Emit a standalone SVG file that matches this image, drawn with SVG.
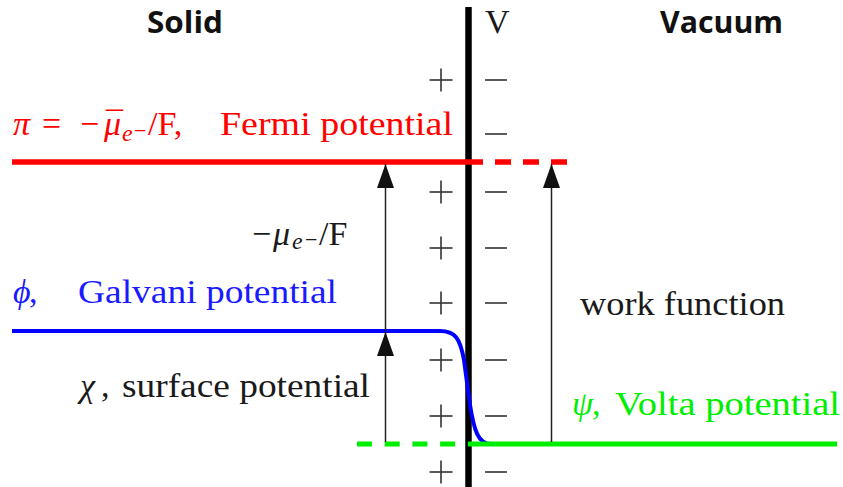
<svg xmlns="http://www.w3.org/2000/svg" width="843" height="487" viewBox="0 0 843 487">
<style>
.serif{font-family:"Liberation Serif","Times New Roman",serif;font-size:34px}
.it{font-style:italic}
.sans{font-family:"Open Sans","Liberation Sans",sans-serif;font-weight:bold;font-size:31px;fill:#111}
.blk{fill:#1a1a1a}
.red{fill:#ff0000}
.blue{fill:#1a1aff}
.green{fill:#00ee00}
.sign{stroke:#333;stroke-width:1.6;fill:none}
.arr{stroke:#222;stroke-width:1.5;fill:none;marker-end:url(#head)}
</style>
<defs>
<marker id="head" markerUnits="userSpaceOnUse" markerWidth="24" markerHeight="17" refX="24" refY="8.5" orient="auto">
<path d="M0,0 L24,8.5 L0,17 z" fill="#111"/>
</marker>
<g id="plus"><line class="sign" x1="-11.5" y1="0" x2="11.5" y2="0"/><line class="sign" x1="0" y1="-11.5" x2="0" y2="11.5"/></g>
<line id="minus" class="sign" x1="485" y1="0" x2="507" y2="0"/>
</defs>

<g id="headers">
<text class="sans" x="147" y="33" textLength="76" lengthAdjust="spacingAndGlyphs">Solid</text>
<text class="sans" x="660" y="33" textLength="123" lengthAdjust="spacingAndGlyphs">Vacuum</text>
<text class="serif blk" x="485" y="33">V</text>
</g>

<g id="interface">
<line x1="468.5" y1="7" x2="468.5" y2="487" stroke="#000" stroke-width="6.5"/>
</g>

<g id="charges">
<use href="#plus" x="441" y="80"/>
<use href="#plus" x="441" y="192"/>
<use href="#plus" x="441" y="248"/>
<use href="#plus" x="441" y="303"/>
<use href="#plus" x="441" y="360"/>
<use href="#plus" x="441" y="416"/>
<use href="#plus" x="441" y="472"/>
<use href="#minus" y="80"/>
<use href="#minus" y="134"/>
<use href="#minus" y="192"/>
<use href="#minus" y="248"/>
<use href="#minus" y="303"/>
<use href="#minus" y="360"/>
<use href="#minus" y="416"/>
<use href="#minus" y="472"/>
</g>

<g id="fermi-level">
<line x1="12" y1="162" x2="483" y2="162" stroke="#ff0000" stroke-width="5.5"/>
<line x1="495" y1="162" x2="567" y2="162" stroke="#ff0000" stroke-width="5.5" stroke-dasharray="16 12"/>
<text class="serif red" y="135"><tspan x="13" class="it">π</tspan><tspan x="42">=</tspan><tspan x="80">−</tspan><tspan x="104" class="it">μ</tspan><tspan x="106">¯</tspan><tspan x="122" dy="6" font-size="24" class="it">e</tspan><tspan x="134" dy="-3" font-size="22">−</tspan><tspan x="148" dy="-3">/F,</tspan><tspan x="220" textLength="233" lengthAdjust="spacingAndGlyphs">Fermi potential</tspan></text>
</g>

<g id="galvani-level">
<path d="M12,331 H440 C455,331 460,338 464,360 L470,405 C474,430 478,444 491,444" fill="none" stroke="#0000ff" stroke-width="4"/>
<text class="serif blue" y="303"><tspan x="13" class="it">ϕ</tspan><tspan x="29">,</tspan><tspan x="78" textLength="259" lengthAdjust="spacingAndGlyphs">Galvani potential</tspan></text>
</g>

<g id="volta-level">
<line x1="357" y1="444" x2="468" y2="444" stroke="#00ee00" stroke-width="5" stroke-dasharray="15 12.7"/>
<line x1="468" y1="444" x2="837" y2="444" stroke="#00ee00" stroke-width="5"/>
<text class="serif green" y="415"><tspan x="572" class="it">ψ</tspan><tspan x="592">,</tspan><tspan x="615" textLength="225" lengthAdjust="spacingAndGlyphs">Volta potential</tspan></text>
</g>

<g id="connectors">
<line class="arr" x1="385.5" y1="442" x2="385.5" y2="332"/>
<line class="arr" x1="385.5" y1="331" x2="385.5" y2="164"/>
<line class="arr" x1="551.5" y1="442" x2="551.5" y2="164"/>
</g>

<g id="quantity-labels">
<text class="serif blk" y="245"><tspan x="252">−</tspan><tspan x="273" class="it">μ</tspan><tspan x="292" dy="4" font-size="24" class="it">e</tspan><tspan x="305" dy="-2" font-size="22">−</tspan><tspan x="319" dy="-2">/F</tspan></text>
<text class="serif blk" y="397"><tspan x="80" class="it">χ</tspan><tspan x="101">,</tspan><tspan x="122" textLength="248" lengthAdjust="spacingAndGlyphs">surface potential</tspan></text>
<text class="serif blk" x="580" y="315" textLength="205" lengthAdjust="spacingAndGlyphs">work function</text>
</g>
</svg>
